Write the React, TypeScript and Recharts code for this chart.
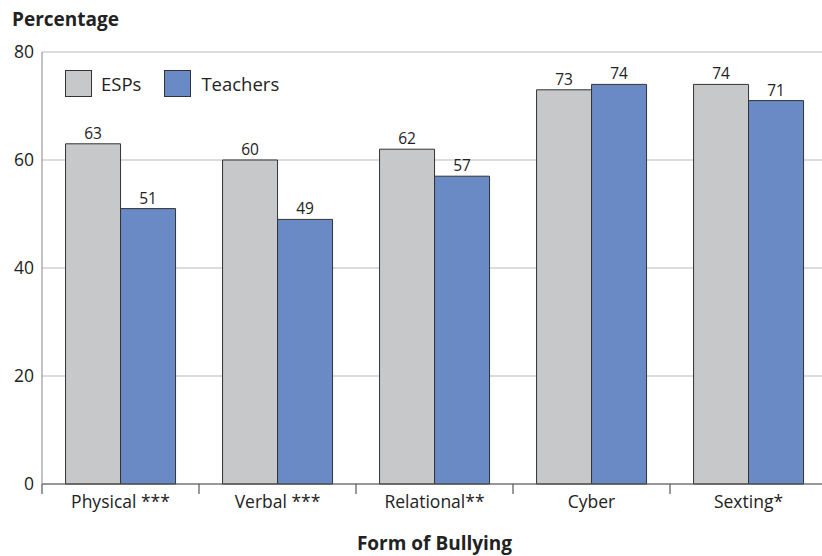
import { BarChart, Bar, XAxis, YAxis, CartesianGrid, LabelList } from "recharts";

const categories = ["Physical ***", "Verbal ***", "Relational**", "Cyber", "Sexting*"];
const esps = [63, 60, 62, 73, 74];
const teachers = [51, 49, 57, 74, 71];
const yTicks = [0, 20, 40, 60, 80];

const ESP_COLOR = "#c7c8ca";
const TEACHER_COLOR = "#6a8ac6";
const FONT = "'Open Sans', 'Noto Sans', sans-serif";

const data = categories.map((name, i) => ({ name, esps: esps[i], teachers: teachers[i] }));

// category label at the centre, tick mark at the left boundary of each band
const CategoryTick = ({ x, y, payload }: any) => {
  const half = payload?.offset ?? 78.5;
  return (
    <g>
      <line x1={x - half} x2={x - half} y1={y - 8} y2={y + 2} stroke="#555" strokeWidth={1.2} />
      <text x={x} y={y + 16} textAnchor="middle" fontSize={17.5} fill="#222" fontFamily={FONT}>
        {payload.value}
      </text>
    </g>
  );
};

const LegendBox = () => (
  <div
    style={{
      position: "absolute",
      left: 65,
      top: 70,
      display: "flex",
      alignItems: "center",
      fontFamily: FONT,
      fontSize: 18.5,
      color: "#222",
    }}
  >
    <span style={{ width: 27, height: 27, background: ESP_COLOR, border: "1px solid #333", boxSizing: "border-box" }} />
    <span style={{ marginLeft: 9, marginRight: 23 }}>ESPs</span>
    <span style={{ width: 27, height: 27, background: TEACHER_COLOR, border: "1px solid #333", boxSizing: "border-box" }} />
    <span style={{ marginLeft: 10 }}>Teachers</span>
  </div>
);

export default function App() {
  return (
    <div style={{ position: "fixed", left: 0, top: 0, width: 822, height: 556, overflow: "hidden", background: "#fff" }}>
      <div
        style={{
          position: "absolute",
          left: 12,
          top: 6,
          fontFamily: FONT,
          fontWeight: 700,
          fontSize: 19,
          color: "#222",
        }}
      >
        Percentage
      </div>
      <BarChart
        width={827}
        height={556}
        data={data}
        margin={{ top: 52, right: 0, bottom: 0, left: 8 }}
        barGap={0}
        barCategoryGap="15%"
        style={{ fontFamily: FONT }}
      >
        <CartesianGrid vertical={false} stroke="#b9b9b9" strokeWidth={1} />
        <XAxis
          dataKey="name"
          height={72}
          stroke="#555"
          strokeWidth={1.2}
          tickLine={false}
          tick={<CategoryTick />}
          interval={0}
          label={{
            value: "Form of Bullying",
            position: "insideBottom",
            offset: 6,
            fontSize: 19,
            fontWeight: 700,
            fill: "#222",
          }}
        />
        <YAxis
          width={34}
          domain={[0, 80]}
          ticks={yTicks}
          stroke="#888"
          tickLine={false}
          tick={{ fontSize: 17.5, fill: "#222" }}
        />
        <Bar dataKey="esps" name="ESPs" fill={ESP_COLOR} stroke="#333" strokeWidth={1} isAnimationActive={false}>
          <LabelList dataKey="esps" position="top" offset={5} fontSize={15.5} fill="#222" />
        </Bar>
        <Bar dataKey="teachers" name="Teachers" fill={TEACHER_COLOR} stroke="#333" strokeWidth={1} isAnimationActive={false}>
          <LabelList dataKey="teachers" position="top" offset={5} fontSize={15.5} fill="#222" />
        </Bar>
      </BarChart>
      <LegendBox />
    </div>
  );
}
